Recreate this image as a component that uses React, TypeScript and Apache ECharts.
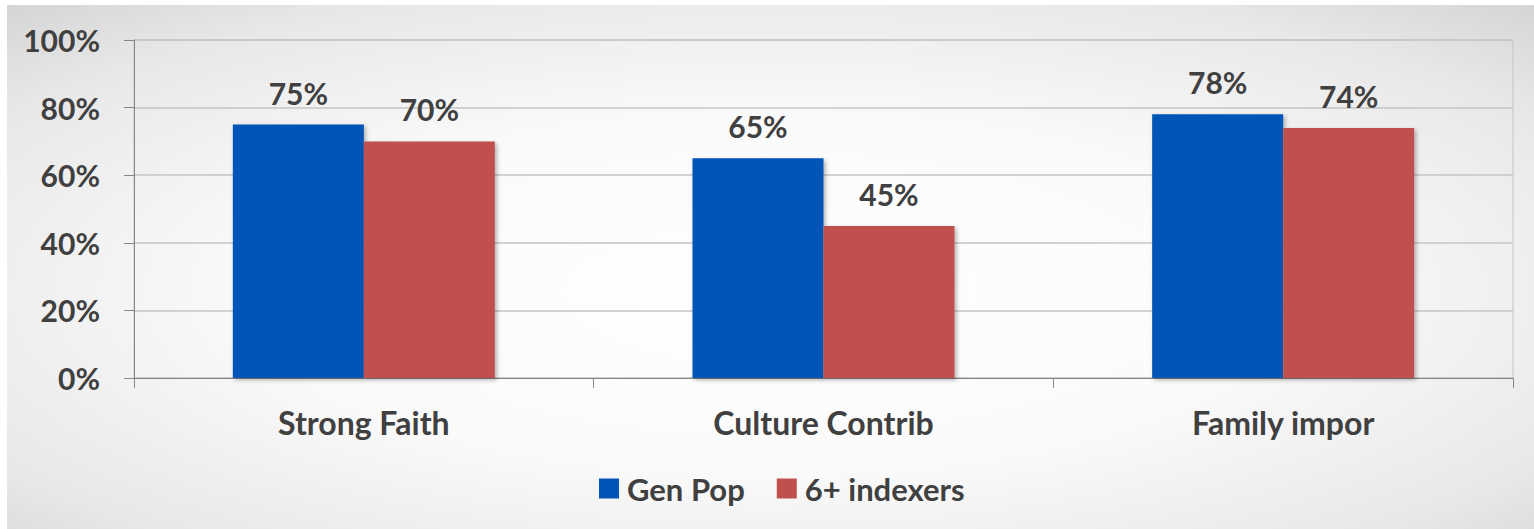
import React, { useEffect, useRef } from "react";
import * as echarts from "echarts";

const categories = ["Strong Faith", "Culture Contrib", "Family impor"];
const genPop = [75, 65, 78];
const indexers = [70, 45, 74];
const seriesNames = ["Gen Pop", "6+ indexers"];
const yTicks = [0, 20, 40, 60, 80, 100];

const FONT = "Lato";
const TEXT = "#404040";

export default function App() {
  const ref = useRef<HTMLDivElement>(null);
  useEffect(() => {
    if (!ref.current) return;
    const chart = echarts.init(ref.current, undefined, { renderer: "svg" });
    const labelCfg = {
      show: true,
      position: "top" as const,
      distance: 17,
      formatter: "{c}%",
      fontFamily: FONT,
      fontWeight: "bold" as const,
      fontSize: 30,
      color: TEXT,
    };
    const shadow = {
      shadowBlur: 4,
      shadowOffsetX: 2,
      shadowOffsetY: 2,
      shadowColor: "rgba(0,0,0,0.3)",
    };
    chart.setOption({
      animation: false,
      backgroundColor: "#ffffff",
      graphic: [
        {
          type: "rect",
          z: -10,
          silent: true,
          shape: { x: 7, y: 5, width: 1527, height: 524 },
          style: {
            fill: new echarts.graphic.RadialGradient(0.5, 0.55, 0.75, [
              { offset: 0, color: "#ffffff" },
              { offset: 0.45, color: "#fafafa" },
              { offset: 0.8, color: "#e8e8e8" },
              { offset: 1, color: "#d4d4d4" },
            ]),
          },
        },
      ],
      grid: {
        left: 134,
        right: 21,
        top: 40,
        bottom: 151,
        containLabel: false,
        show: true,
        borderColor: "#c4c4c4",
        borderWidth: 1,
        backgroundColor: "transparent",
      },
      legend: {
        data: seriesNames,
        left: 594,
        top: 468,
        icon: "rect",
        itemWidth: 20,
        itemHeight: 20,
        itemGap: 32,
        textStyle: {
          fontFamily: FONT,
          fontWeight: "bold",
          fontSize: 31,
          color: TEXT,
          padding: [0, 0, 0, 3],
        },
      },
      xAxis: {
        type: "category",
        data: categories,
        axisLine: { show: true, lineStyle: { color: "#868686", width: 1 } },
        axisTick: { show: true, length: 10, lineStyle: { color: "#868686" } },
        axisLabel: {
          margin: 28,
          fontFamily: FONT,
          fontWeight: "bold",
          fontSize: 32,
          color: TEXT,
        },
        splitLine: { show: false },
      },
      yAxis: {
        type: "value",
        min: yTicks[0],
        max: yTicks[yTicks.length - 1],
        interval: 20,
        axisLine: { show: true, lineStyle: { color: "#868686", width: 1 } },
        axisTick: { show: true, length: 10, lineStyle: { color: "#868686" } },
        axisLabel: {
          margin: 34,
          formatter: "{value}%",
          fontFamily: FONT,
          fontWeight: "bold",
          fontSize: 30,
          color: TEXT,
        },
        splitLine: { show: true, lineStyle: { color: "#c4c4c4", width: 1.5 } },
      },
      series: [
        {
          name: seriesNames[0],
          type: "bar",
          data: genPop,
          barWidth: 131,
          barGap: "0%",
          itemStyle: { color: "#0054B6", ...shadow },
          label: labelCfg,
        },
        {
          name: seriesNames[1],
          type: "bar",
          data: indexers,
          barWidth: 131,
          barGap: "0%",
          itemStyle: { color: "#C0504D", ...shadow },
          label: labelCfg,
        },
      ],
    });
    return () => chart.dispose();
  }, []);
  return (
    <div
      ref={ref}
      style={{ position: "absolute", left: 0, top: 0, width: 1534, height: 529 }}
    />
  );
}
